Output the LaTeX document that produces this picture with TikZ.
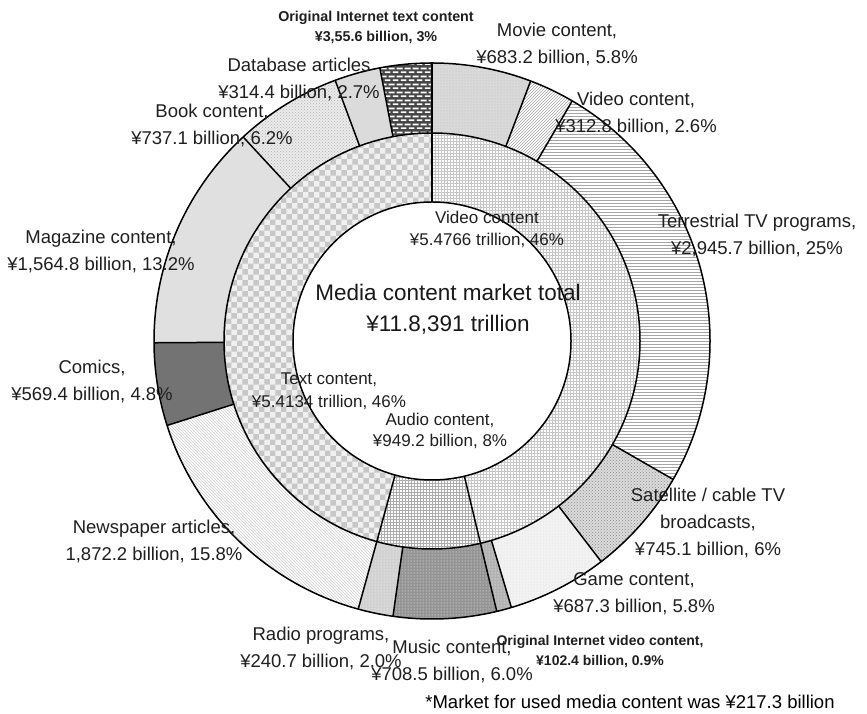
\documentclass[tikz,border=0pt]{standalone}
\usepackage{fontspec}
\setmainfont{Liberation Sans}
\usetikzlibrary{patterns}
\pgfdeclarepatternformonly{mybricks}{\pgfqpoint{0pt}{0pt}}{\pgfqpoint{8pt}{8pt}}{\pgfqpoint{8pt}{8pt}}{%
  \pgfpathrectangle{\pgfqpoint{1pt}{1.2pt}}{\pgfqpoint{6pt}{1.8pt}}%
  \pgfpathrectangle{\pgfqpoint{-3pt}{5.2pt}}{\pgfqpoint{6pt}{1.8pt}}%
  \pgfpathrectangle{\pgfqpoint{5pt}{5.2pt}}{\pgfqpoint{6pt}{1.8pt}}%
  \pgfusepath{fill}}
\tikzset{
  lbl/.style={font=\fontsize{18.5}{27}\selectfont, align=center, inner sep=0pt, text=black!88},
  inlbl/.style={font=\fontsize{17}{22.5}\selectfont, align=center, inner sep=0pt, text=black!88},
  sml/.style={font=\bfseries\fontsize{14.3}{20}\selectfont, align=center, inner sep=0pt, text=black!88},
  ttl/.style={font=\fontsize{22.5}{31}\selectfont, align=center, inner sep=0pt, text=black!90},
  note/.style={font=\fontsize{18.5}{22}\selectfont, inner sep=0pt, text=black},
  ring/.style={line width=1.5pt, black},
  % inner ring fills
  fvidin/.style={fill=white, postaction={pattern=grid, pattern color=black!22}},
  faudin/.style={fill=white, postaction={pattern=grid, pattern color=black!32}},
  ftextin/.style={fill=black!6, postaction={pattern=checkerboard, pattern color=black!22}},
  % outer ring fills
  fmovie/.style={fill=black!15, postaction={pattern=dots, pattern color=black!25}},
  fvideo/.style={fill=white, postaction={pattern=north east lines, pattern color=black!35}},
  fterr/.style={fill=white, postaction={pattern=horizontal lines, pattern color=black!35}},
  fsat/.style={fill=black!14, postaction={pattern=crosshatch dots, pattern color=black!45}},
  fgame/.style={fill=black!5, postaction={pattern=dots, pattern color=black!14}},
  foiv/.style={fill=black!30, postaction={pattern=dots, pattern color=white}},
  fmusic/.style={fill=black!42, postaction={pattern=dots, pattern color=white}},
  fradio/.style={fill=black!18, postaction={pattern=dots, pattern color=white}},
  fnews/.style={fill=white, postaction={pattern=north west lines, pattern color=black!20}},
  fcomics/.style={fill=black!55},
  fmag/.style={fill=black!12},
  fbook/.style={fill=black!8, postaction={pattern=crosshatch dots, pattern color=black!30}},
  fdb/.style={fill=black!14},
  foit/.style={fill=black!72, postaction={pattern=mybricks, pattern color=white}},
}
\begin{document}
\begin{tikzpicture}[x=1pt,y=1pt]
\useasboundingbox (0,0) rectangle (867,714);
\fill[white] (0,0) rectangle (867,714);
\begin{scope}[shift={(432,373)}]
  % outer ring sectors (clockwise angles from top)
  \foreach \a/\b/\s in {0/20.774/fmovie, 20.774/30.285/fvideo, 30.285/119.856/fterr,
      119.856/142.513/fsat, 142.513/163.412/fgame, 163.412/166.526/foiv,
      166.526/188.070/fmusic, 188.070/195.389/fradio, 195.389/252.318/fnews,
      252.318/269.632/fcomics, 269.632/317.214/fmag, 317.214/339.627/fbook,
      339.627/349.187/fdb, 349.187/360/foit}
  {
    \fill[\s] ({90-\a}:278) arc[start angle={90-\a}, end angle={90-\b}, radius=278]
      -- ({90-\b}:208) arc[start angle={90-\b}, end angle={90-\a}, radius=208] -- cycle;
  }
  % inner ring sectors
  \foreach \a/\b/\s in {0/166.526/fvidin, 166.526/195.389/faudin, 195.389/360/ftextin}
  {
    \fill[\s] ({90-\a}:208) arc[start angle={90-\a}, end angle={90-\b}, radius=208]
      -- ({90-\b}:139) arc[start angle={90-\b}, end angle={90-\a}, radius=139] -- cycle;
  }
  \fill[white] (0,0) circle[radius=139];
  % outlines
  \draw[ring] (0,0) circle[radius=278];
  \draw[ring] (0,0) circle[radius=208];
  \draw[ring] (0,0) circle[radius=139];
  \foreach \a in {20.774, 30.285, 119.856, 142.513, 163.412, 188.070,
      252.318, 269.632, 317.214, 339.627, 349.187}
  {
    \draw[ring] ({90-\a}:208) -- ({90-\a}:278);
  }
  \foreach \a in {0, 166.526, 195.389}
  {
    \draw[ring] ({90-\a}:139) -- ({90-\a}:278);
  }
\end{scope}

% labels
\node[sml] (oit) at (376,687) {Original Internet text content\\¥3,55.6 billion, 3\%};
\node[lbl] (movie) at (557,669.5) {Movie content,\\¥683.2 billion, 5.8\%};
\node[lbl] (videoout) at (636,601) {Video content,\\¥312.8 billion, 2.6\%};
\node[lbl] (db) at (299,635) {Database articles\\¥314.4 billion, 2.7\%};
\node[lbl] (book) at (212,589) {Book content,\\¥737.1 billion, 6.2\%};
\node[lbl] (terr) at (757,478.5) {Terrestrial TV programs,\\¥2,945.7 billion, 25\%};
\node[inlbl] (videoin) at (487,484.5) {Video content\\¥5.4766 trillion, 46\%};
\node[ttl] (total) at (448,404.5) {Media content market total\\¥11.8,391 trillion};
\node[inlbl] (textin) at (329,323) {Text content,\\¥5.4134 trillion, 46\%};
\node[inlbl, font=\fontsize{17}{21}\selectfont] (audioin) at (440,283.5) {Audio content,\\¥949.2 billion, 8\%};
\node[lbl] (mag) at (101,462.5) {Magazine content,\\¥1,564.8 billion, 13.2\%};
\node[lbl] (comics) at (92,332.5) {Comics,\\¥569.4 billion, 4.8\%};
\node[lbl] (news) at (154,172.5) {Newspaper articles,\\1,872.2 billion, 15.8\%};
\node[lbl] (radio) at (321,65.5) {Radio programs,\\¥240.7 billion, 2.0\%};
\node[lbl] (music) at (452,52.5) {Music content,\\¥708.5 billion, 6.0\%};
\node[sml, font=\bfseries\fontsize{14}{20}\selectfont] (oiv) at (600,62) {Original Internet video content,\\¥102.4 billion, 0.9\%};
\node[lbl] (game) at (634,120.5) {Game content,\\¥687.3 billion, 5.8\%};
\node[lbl] (sat) at (708,191) {Satellite / cable TV\\broadcasts,\\¥745.1 billion, 6\%};
\node[note] (foot) at (630,12) {*Market for used media content was ¥217.3 billion};
\end{tikzpicture}
\end{document}
